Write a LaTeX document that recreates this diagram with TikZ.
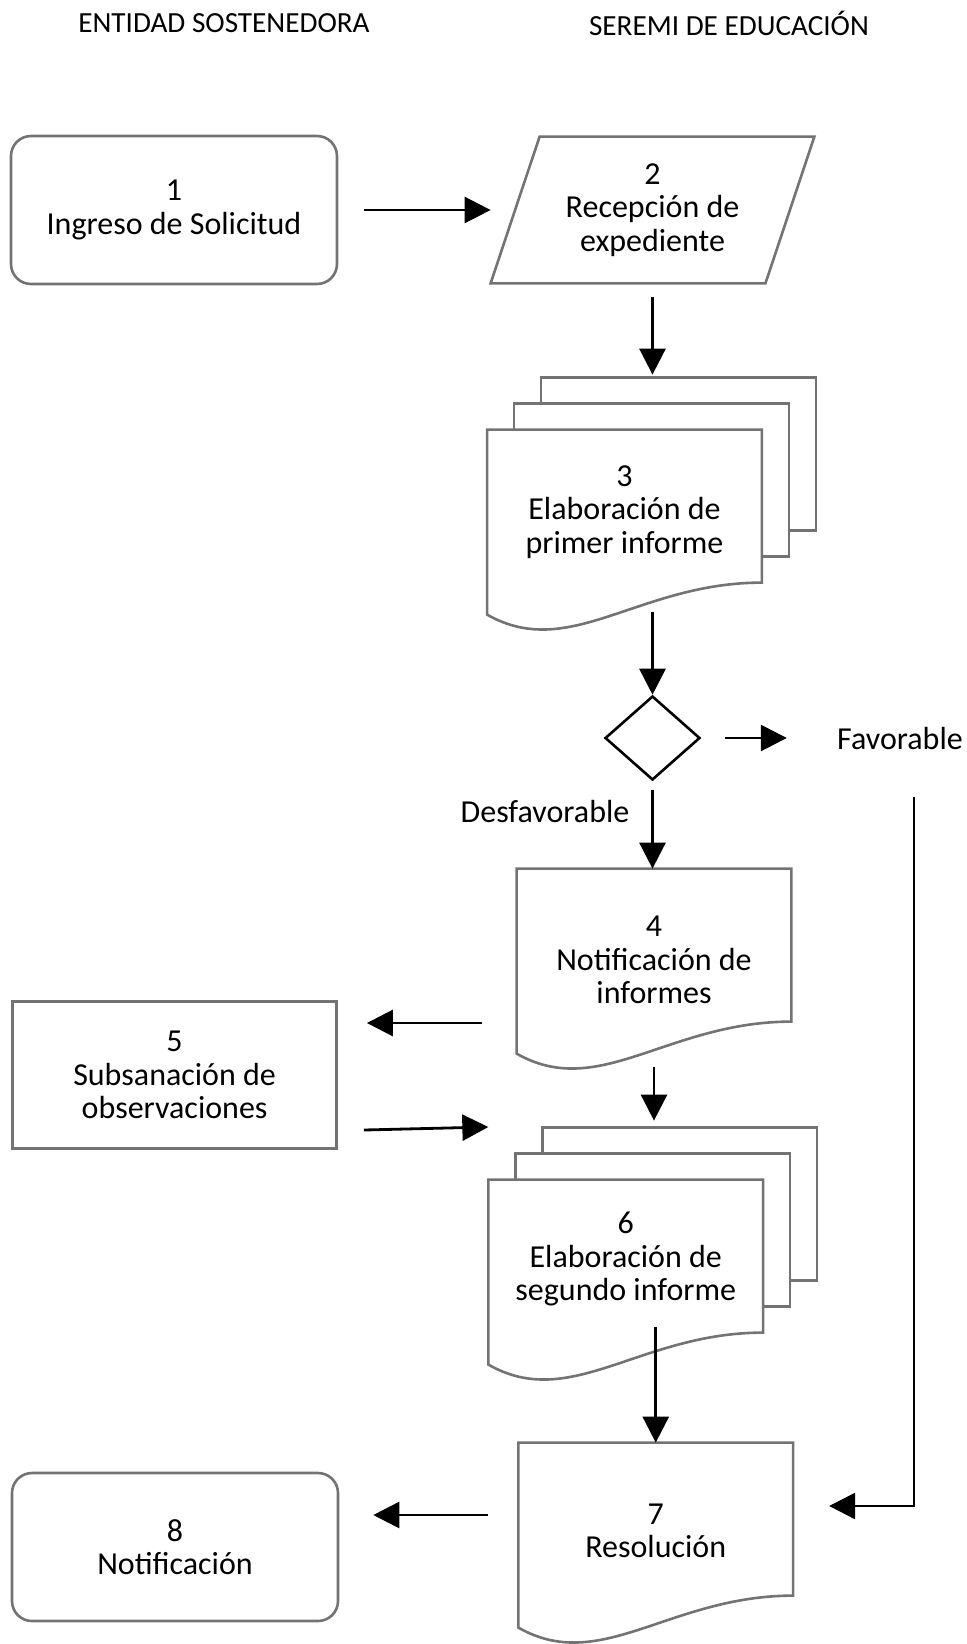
\documentclass[tikz,border=0pt]{standalone}
\usepackage{fontspec}
\setmainfont{Carlito}
\usetikzlibrary{arrows.meta,shapes.geometric,calc,backgrounds}

\definecolor{boxgray}{RGB}{115,115,115}

\tikzset{
  boxline/.style={draw=boxgray,line width=1.3pt},
  label/.style={align=center,font=\fontsize{16}{16.6}\selectfont,inner sep=0pt},
  roundbox/.style={label,boxline,rounded corners=10pt,minimum width=163pt,minimum height=74pt},
  plainbox/.style={label,boxline,minimum width=162pt,minimum height=73.5pt},
  docbox/.style={label,minimum width=137pt},
  decision/.style={diamond,draw=black,line width=1.3pt,minimum width=47.5pt,minimum height=42pt,inner sep=0pt},
  arr/.style={line width=1.4pt,-{Triangle[length=13pt,width=13pt]}},
  lane/.style={font=\fontsize{14.6}{16}\selectfont,inner sep=0pt}
}

% wavy document outline, drawn under node #1
\newcommand\docpath[1]{%
  \draw[boxline,fill=white] (#1.north west) -- (#1.north east) -- ($(#1.north east)+(0,153)$)
    .. controls ($(#1.north west)!0.55!(#1.north east)+(0,153)$) and ($(#1.north west)!0.3!(#1.north east)+(0,232)$)
    .. ($(#1.north west)+(0,185)$) -- cycle;}
% two sheets behind a document
\newcommand\stackpath[1]{%
  \draw[boxline,fill=white] ($(#1.north west)+(54,-52)$) rectangle ($(#1.north east)+(54,101)$);
  \draw[boxline,fill=white] ($(#1.north west)+(27,-26)$) rectangle ($(#1.north east)+(27,127)$);}

\begin{document}
\begin{tikzpicture}[x=0.5pt,y=-0.5pt]
    \useasboundingbox (0,0) rectangle (967,1644);

    \node[lane] (ent) at (224,23) {ENTIDAD SOSTENEDORA};
    \node[lane] (ser) at (729,23) {SEREMI DE EDUCACIÓN};

    \node[roundbox] (b1) at (174,210) {1\\Ingreso de Solicitud};
    \node[label,minimum width=161.5pt,minimum height=73pt] (b2) at (652.5,210) {2\\Recepción de\\expediente};
    \draw[boxline] ($(b2.north west)+(49,0)$) -- (b2.north east)
        -- ($(b2.south east)+(-49,0)$) -- (b2.south west) -- cycle;

    \node[docbox,minimum height=82pt] (b3) at (624.5,512) {3\\Elaboración de\\primer informe};
    \node[decision] (dec) at (652.5,738) {};
    \node[label] (fav) at (900,738) {Favorable};
    \node[label] (des) at (545,811) {Desfavorable};

    \node[docbox,minimum height=91pt] (b4) at (654,960) {4\\Notificación de\\informes};
    \node[plainbox] (b5) at (174.6,1075) {5\\Subsanación de\\observaciones};
    \node[docbox,minimum height=79pt] (b6) at (625.75,1259) {6\\Elaboración de\\segundo informe};
    \node[docbox,minimum height=88pt] (b7) at (655.75,1531) {7\\Resolución};
    \node[roundbox] (b8) at (175,1547) {8\\Notificación};

    \begin{scope}[on background layer]
        \stackpath{b3}
        \docpath{b3}
        \docpath{b4}
        \stackpath{b6}
        \docpath{b6}
        \docpath{b7}
    \end{scope}

    \draw[arr] ($(b1.east)+(26,0)$) -- (b2.west);
    \draw[arr] ($(b2.south)+(0,14)$) -- ($(b2.south |- b3.north)+(0,-55)$);
    \draw[arr] ($(b3.north -| dec)+(0,182)$) -- (dec.north);
    \draw[arr] ($(dec.east)+(24,0)$) -- ($(fav.west)+(-50,0)$);
    \draw[arr] ($(dec.south)+(0,9)$) -- (dec.south |- b4.north);
    \draw[arr] ($(b4.west)+(-35,63)$) -- ($(b5.east)+(29,-52)$);
    \draw[arr] ($(b5.east)+(26,55)$) -- ($(b6.west)+(0,-132)$);
    \draw[arr] ($(b4.south)+(0,16)$) -- ($(b4.south |- b6.north)+(0,-59)$);
    \draw[arr] ($(b6.north -| b7.north)+(0,147)$) -- (b7.north);
    \draw[arr] ($(b7.west)+(-30,-16)$) -- ($(b8.east)+(34,-32)$);
    \draw[arr] ($(fav)+(14,59)$) |- ($(b7.east)+(36,-25)$);

\end{tikzpicture}
\end{document}
